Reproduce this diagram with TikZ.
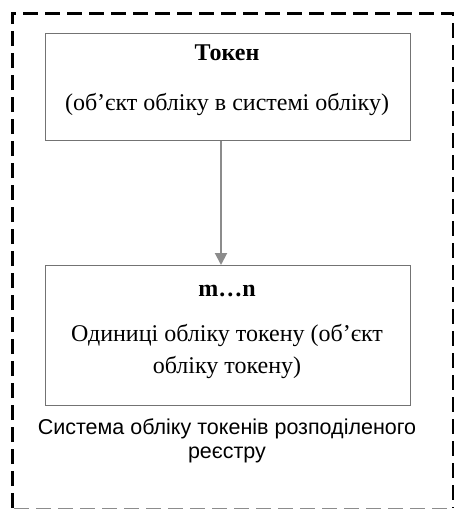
\documentclass[tikz,border=0pt]{standalone}
\usepackage{fontspec}
\setmainfont{Liberation Serif}
\newfontfamily\capfont{Liberation Sans}
\usetikzlibrary{arrows.meta}
\begin{document}
\begin{tikzpicture}[x=1pt,y=-1pt,
  boxstyle/.style={draw=black!55,line width=1.4pt},
  outerstyle/.style={draw=black,line width=3pt,dash pattern=on 15pt off 7pt},
  conn/.style={draw=black!45,line width=2pt,-{Triangle[length=12pt,width=12pt]}}]
\useasboundingbox (0,0) rectangle (454,509);
\draw[outerstyle] (12,508) -- (12,13) -- (453,13) -- (453,508);
\draw[draw=black!45,line width=1.5pt,dash pattern=on 15pt off 7pt] (14,508.5) -- (453,508.5);
\node[boxstyle,minimum width=365pt,minimum height=107pt,anchor=north west] (top) at (45,33) {};
\node[boxstyle,minimum width=365pt,minimum height=140pt,anchor=north west] (bot) at (45,265) {};
\node[font=\fontsize{24}{26}\selectfont\bfseries] (t1) at (227,53) {Токен};
\node[font=\fontsize{24}{26}\selectfont] (t2) at (227,104) {(об’єкт обліку в системі обліку)};
\node[font=\fontsize{24}{26}\selectfont\bfseries] (b1) at (227,291) {m…n};
\node[font=\fontsize{24}{32}\selectfont,align=center] (b2) at (227,351) {Одиниці обліку токену (об’єкт\\обліку токену)};
\node[font=\capfont\fontsize{21.5}{24.5}\selectfont,align=center] (cap) at (227,441) {Система обліку токенів розподіленого\\реєстру};
\draw[conn] (top.south -| 221,0) -- (bot.north -| 221,0);
\end{tikzpicture}
\end{document}
